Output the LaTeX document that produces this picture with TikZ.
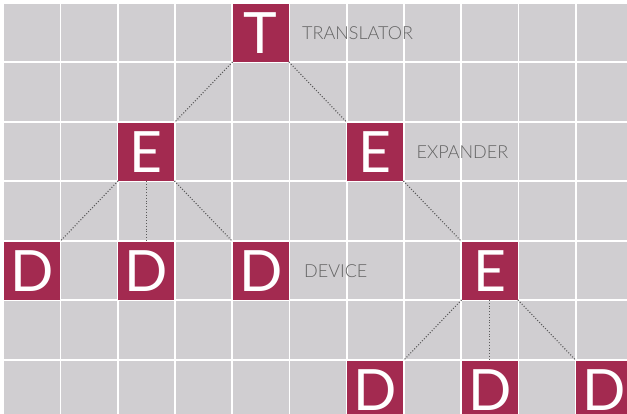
\documentclass[tikz,border=0pt]{standalone}
\usepackage{fontspec}
\setmainfont{Lato}
\newfontfamily\thinfont{Lato Light}
\usepackage{tikz}
\usetikzlibrary{positioning}
\definecolor{cellgray}{RGB}{208,206,209}
\definecolor{crimson}{RGB}{163,42,80}
\definecolor{labelgray}{RGB}{100,100,100}
\definecolor{linkgray}{RGB}{90,90,90}
\tikzset{
  letterbox/.style={rectangle, fill=crimson, text=white, minimum width=56pt, minimum height=58pt, inner sep=0pt, font=\fontsize{57}{57}\selectfont},
  tag/.style={anchor=west, text=labelgray, inner sep=0pt, font=\thinfont\fontsize{18}{18}\selectfont},
  link/.style={draw=linkgray, line width=1.1pt, dash pattern=on 1pt off 1.8pt},
}
\begin{document}
\begin{tikzpicture}[x=1pt, y=-1pt]
\useasboundingbox[fill=white] (0,0) rectangle (627,414);
\begin{scope}
\clip (0,0) rectangle (627,414);
% grid of cells
\foreach \i in {0,...,10}
  \foreach \j in {0,...,6}
    \fill[cellgray] (4+57.25*\i, 4+59.5*\j) rectangle ++(55.5,57.5);
\end{scope}

% boxes: centre of cell (i,j) is (31.75+57.25 i, 32.75+59.5 j)
\node[letterbox] (trans) at (260.75, 32.75) {T};
\node[letterbox] (expl) at (146.25, 151.75) {E};
\node[letterbox] (expr) at (375.25, 151.75) {E};
\node[letterbox] (devl) at (31.75, 270.75) {D};
\node[letterbox] (devm) at (146.25, 270.75) {D};
\node[letterbox] (devr) at (260.75, 270.75) {D};
\node[letterbox] (expb) at (489.75, 270.75) {E};
\node[letterbox] (devbl) at (375.25, 389.75) {D};
\node[letterbox] (devbm) at (489.75, 389.75) {D};
\node[letterbox] (devbr) at (604.25, 389.75) {D};

\node[tag, right=13pt of trans] {TRANSLATOR};
\node[tag, right=13pt of expr] {EXPANDER};
\node[tag, right=15pt of devr] {DEVICE};

\draw[link] (trans.south west) -- (expl.north east);
\draw[link] (trans.south east) -- (expr.north west);
\draw[link] (expl.south west) -- (devl.north east);
\draw[link] (expl.south) -- (devm.north);
\draw[link] (expl.south east) -- (devr.north west);
\draw[link] (expr.south east) -- (expb.north west);
\draw[link] (expb.south west) -- (devbl.north east);
\draw[link] (expb.south) -- (devbm.north);
\draw[link] (expb.south east) -- (devbr.north west);
\end{tikzpicture}
\end{document}
